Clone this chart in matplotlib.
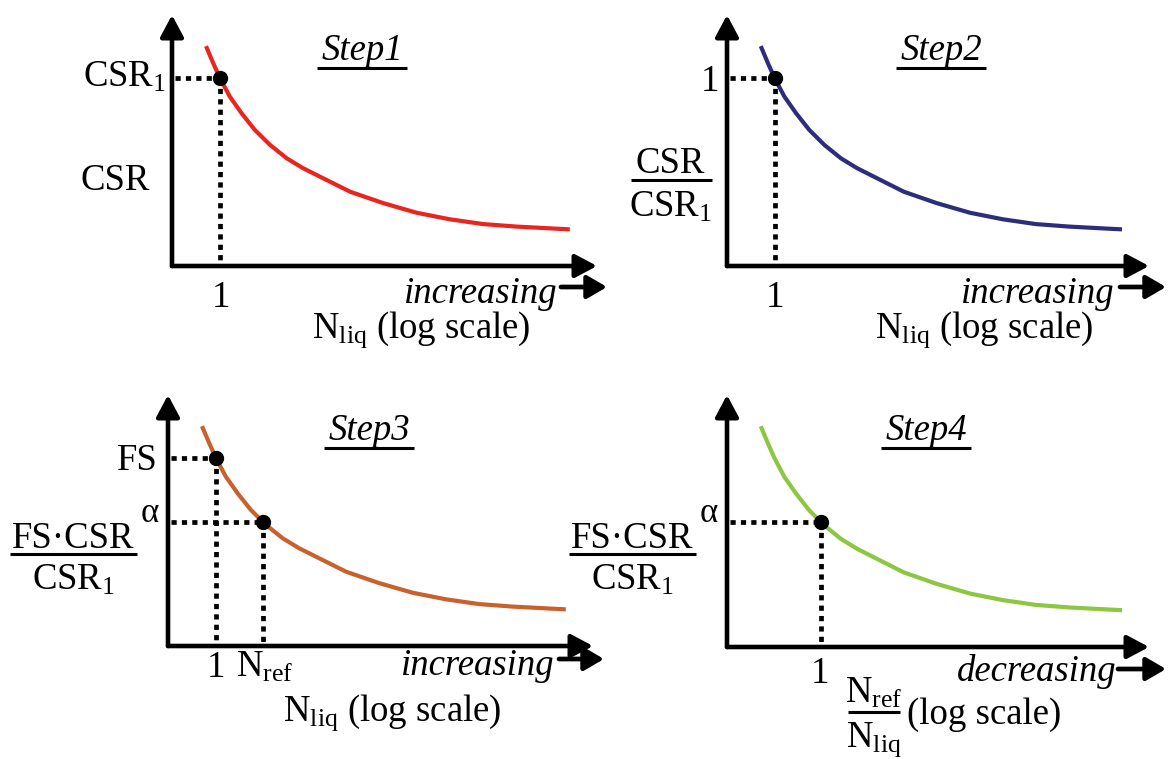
import matplotlib
matplotlib.use("Agg")
import matplotlib.pyplot as plt

plt.rcParams['font.family'] = ['Liberation Serif', 'DejaVu Serif']
plt.rcParams['mathtext.fontset'] = 'custom'
plt.rcParams['mathtext.rm'] = 'Liberation Serif'
plt.rcParams['mathtext.it'] = 'Liberation Serif:italic'
plt.rcParams['mathtext.bf'] = 'Liberation Serif:bold'

# ---- data (schematic curve; axes units 0..100) ----
curve_x = [8.0, 9.7, 11.3, 13.6, 16.4, 19.5, 23.1, 27.0, 30.8, 34.8, 41.9,
           49.6, 57.6, 65.4, 73.2, 81.1, 88.9, 93.6]
curve_y = [87.6, 80.8, 74.8, 67.5, 60.8, 54.2, 48.2, 42.9, 39.0, 35.6, 29.6,
           25.1, 21.2, 18.6, 16.7, 15.7, 15.0, 14.6]

step_titles = ['Step1', 'Step2', 'Step3', 'Step4']
curve_colors = ['#e8251f', '#2e2d7c', '#c8612b', '#8dc640']

# marked points per panel: (x, y)
points = [
    [(11.3, 74.8)],
    [(11.3, 74.8)],
    [(11.3, 74.8), (22.3, 49.5)],
    [(22.3, 49.5)],
]

# panel frames in pixels: (y-axis x, x-axis y, right tip x, top tip y)
frames = [
    (172, 266, 597, 15),
    (727, 266, 1149, 15),
    (168, 646, 593, 395),
    (727, 647, 1149, 395),
]

W, H = 1173, 759
fig = plt.figure(figsize=(W / 100, H / 100), dpi=100)
fig.patch.set_facecolor('white')

ax0 = fig.add_axes([0, 0, 1, 1])
ax0.set_xlim(0, W)
ax0.set_ylim(H, 0)
ax0.axis('off')

FS = 26.5

def txt(x, y, s, size=FS, ha='left', style='normal'):
    ax0.text(x, y, s, fontsize=size, ha=ha, va='baseline', style=style)

def hline(x1, x2, y, lw=2.2):
    ax0.plot([x1, x2], [y, y], color='black', lw=lw, solid_capstyle='butt')

def side_arrow(x1, x2, y):
    ax0.annotate('', xy=(x2, y), xytext=(x1, y), xycoords='data',
                 arrowprops=dict(arrowstyle='-|>,head_length=0.6,head_width=0.35',
                                 lw=3.4, color='black', shrinkA=0, shrinkB=0,
                                 mutation_scale=20))

for i, (fx, fy, rx, ty) in enumerate(frames):
    ax = fig.add_axes([fx / W, 1 - fy / H, (rx - fx) / W, (fy - ty) / H])
    ax.set_xlim(0, 100)
    ax.set_ylim(0, 100)
    ax.axis('off')
    for xy in [(100, 0), (0, 100)]:
        ax.annotate('', xy=xy, xytext=(0, 0),
                    arrowprops=dict(arrowstyle='-|>,head_length=0.6,head_width=0.32',
                                    lw=3.3, color='black', shrinkA=0, shrinkB=0,
                                    mutation_scale=22),
                    annotation_clip=False)
    ax.plot(curve_x, curve_y, color=curve_colors[i], lw=3.0,
            solid_capstyle='butt', solid_joinstyle='round', clip_on=False)
    for (px, py) in points[i]:
        ax.plot([0.8, px], [py, py], color='black', lw=3.4,
                linestyle=(0, (1.1, 1.1)), dash_capstyle='butt', clip_on=False)
        ax.plot([px, px], [py, 0.8], color='black', lw=3.4,
                linestyle=(0, (1.1, 1.1)), dash_capstyle='butt', clip_on=False)
        ax.plot([px], [py], 'o', color='black', ms=10, clip_on=False, zorder=5)

# ---- Panel 1 texts ----
txt(166, 87, 'CSR$_1$', ha='right')
txt(115, 190, 'CSR', ha='center')
txt(362, 60, step_titles[0], ha='center', style='italic')
hline(317, 407, 68)
txt(221, 307, '1', ha='center')
txt(558, 303, 'increasing', ha='right', style='italic')
side_arrow(561, 607, 287)
txt(312, 338, r'N$_{\mathrm{liq}}$ (log scale)')

# ---- Panel 2 texts ----
txt(719, 91, '1', ha='right')
txt(670, 173, 'CSR', ha='center')
hline(631, 712, 180)
txt(671, 217, 'CSR$_1$', ha='center')
txt(941, 60, step_titles[1], ha='center', style='italic')
hline(896, 986, 68)
txt(775, 307, '1', ha='center')
txt(1115, 303, 'increasing', ha='right', style='italic')
side_arrow(1120, 1166, 287)
txt(875, 338, r'N$_{\mathrm{liq}}$ (log scale)')

# ---- Panel 3 texts ----
txt(158, 470, 'FS', ha='right')
txt(73, 548, 'FS\u00b7CSR', ha='center')
hline(10, 137, 554)
txt(74, 590, 'CSR$_1$', ha='center')
txt(141, 522, '\u03b1', size=25)
txt(369, 440, step_titles[2], ha='center', style='italic')
hline(324, 414, 448)
txt(216, 677, '1', ha='center')
txt(236, 677, r'N$_{\mathrm{ref}}$')
txt(555, 675, 'increasing', ha='right', style='italic')
side_arrow(559, 604, 659)
txt(283, 721, r'N$_{\mathrm{liq}}$ (log scale)')

# ---- Panel 4 texts ----
txt(632, 548, 'FS\u00b7CSR', ha='center')
hline(569, 696, 554)
txt(633, 590, 'CSR$_1$', ha='center')
txt(700, 522, '\u03b1', size=25)
txt(926, 440, step_titles[3], ha='center', style='italic')
hline(881, 971, 448)
txt(820, 683, '1', ha='center')
txt(874, 703, r'N$_{\mathrm{ref}}$', ha='center')
hline(848, 900, 712)
txt(874, 747, r'N$_{\mathrm{liq}}$', ha='center')
txt(907, 724, '(log scale)')
txt(1117, 681, 'decreasing', ha='right', style='italic')
side_arrow(1118, 1166, 669)

fig.savefig('out.png', dpi=100, facecolor='white')
